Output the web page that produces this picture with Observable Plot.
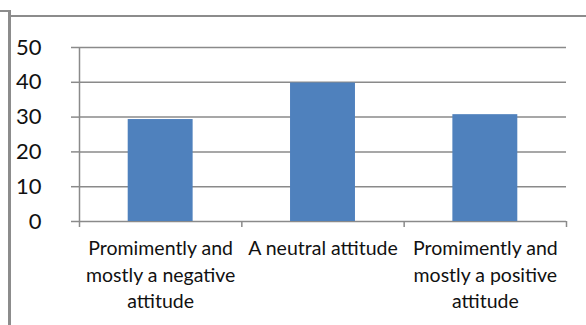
<!DOCTYPE html>
<html>
<head>
<meta charset="utf-8">
<script src="https://cdn.jsdelivr.net/npm/d3@7"></script>
<script src="https://cdn.jsdelivr.net/npm/@observablehq/plot@0.6"></script>
<style>
  html, body { margin: 0; padding: 0; background: #fff; }
  #wrap { position: relative; width: 586px; height: 325px; overflow: hidden; font-family: Lato, sans-serif; }
  .frame { position: absolute; background: #8c8c8c; }
  #chart { position: absolute; left: 0; top: 0; }
</style>
</head>
<body>
<div id="wrap">
  <div class="frame" style="left:0;top:10px;width:10px;height:2px;"></div>
  <div class="frame" style="left:8px;top:10px;width:3px;height:315px;"></div>
  <div class="frame" style="left:10px;top:15px;width:576px;height:2px;"></div>
  <div id="chart"></div>
</div>
<script>
const categories = [
  "Promimently and\nmostly a negative\nattitude",
  "A neutral attitude",
  "Promimently and\nmostly a positive\nattitude"
];
const values = [29.3, 39.8, 30.7];
const yTicks = [0, 10, 20, 30, 40, 50];

const data = categories.map((c, i) => ({ cat: c, i, v: values[i] }));
const ink = "#111111";
const grid = "#8a8a8a";

const chart = Plot.plot({
  width: 586,
  height: 325,
  marginLeft: 79,
  marginRight: 20,
  marginTop: 47,
  marginBottom: 104,
  style: { fontFamily: "Lato, sans-serif", color: ink, background: "transparent" },
  x: { type: "linear", domain: [0, categories.length] },
  y: { domain: [0, 50] },
  marks: [
    Plot.ruleY(yTicks, { stroke: grid, strokeWidth: 1.5 }),
    Plot.rectY(data, { x1: d => d.i + 0.3, x2: d => d.i + 0.7, y1: 0, y2: "v", fill: "#4f81bd" }),
    Plot.ruleX([0], { y1: 0, y2: 50, stroke: grid, strokeWidth: 1.5 }),
    Plot.axisY({ ticks: yTicks, tickSize: 8, tickPadding: 30, stroke: grid, strokeWidth: 1.5, fontSize: 22, fill: ink, label: null }),
    Plot.axisX({ ticks: d3.range(categories.length + 1), tickSize: 6, tickFormat: () => "", stroke: grid, strokeWidth: 1.5, label: null }),
    Plot.axisX({ ticks: categories.map((c, i) => i + 0.5), tickSize: 0, tickPadding: 14, tickFormat: (t) => categories[Math.floor(t)], fontSize: 19.5, lineHeight: 1.38, fill: ink, label: null })
  ]
});
document.getElementById("chart").appendChild(chart);
</script>
</body>
</html>
